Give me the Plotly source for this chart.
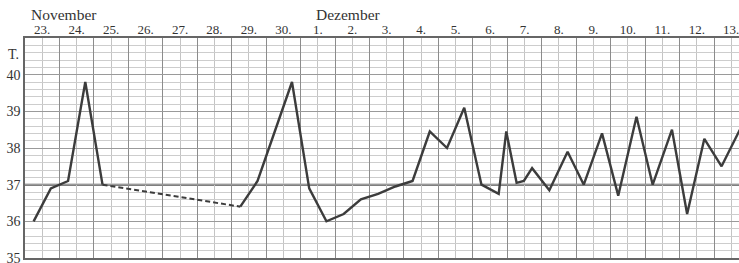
import plotly.graph_objects as go

# ---- data (x = days since start of 23 November; 0.25 ~ morning, 0.75 ~ evening) ----
day_labels = ["23.", "24.", "25.", "26.", "27.", "28.", "29.", "30.",
              "1.", "2.", "3.", "4.", "5.", "6.", "7.", "8.", "9.", "10.", "11.", "12.", "13."]
months = ["November", "Dezember"]
month_start_day = [0, 8]

# first solid stretch (23.-25. Nov.)
t_a = [0.25, 0.75, 1.25, 1.75, 2.25]
temp_a = [36.0, 36.9, 37.1, 39.8, 37.0]

# dashed gap (25. - 29. Nov., no readings)
t_gap = [2.25, 6.25]
temp_gap = [37.0, 36.4]

# second solid stretch (29. Nov. - 13. Dez.)
t_b = [6.25, 6.75, 7.25, 7.75,
       8.25, 8.75, 9.25, 9.75, 10.25, 10.75, 11.25, 11.75, 12.25, 12.75,
       13.25, 13.75, 13.97, 14.27, 14.48, 14.72,
       15.22, 15.75, 16.22, 16.75, 17.22, 17.75, 18.22, 18.78, 19.22, 19.72, 20.22, 20.75]
temp_b = [36.4, 37.1, 38.45, 39.8,
          36.9, 36.0, 36.2, 36.6, 36.75, 36.95, 37.1, 38.45, 38.0, 39.1,
          37.0, 36.75, 38.45, 37.05, 37.1, 37.45,
          36.85, 37.9, 37.0, 38.4, 36.7, 38.85, 37.0, 38.5, 36.2, 38.25, 37.5, 38.5]

y_ticks = [35, 36, 37, 38, 39, 40]

W, H = 739, 263
ML, MR, MT, MB = 25, 0, 38, 5
day_px = 34.45
x_max = (W - ML - MR) / day_px

SERIF = "Liberation Serif, Times New Roman, serif"
line_col = "#3c3c3c"

fig = go.Figure()
fig.add_trace(go.Scatter(x=t_a, y=temp_a, mode="lines",
                         line=dict(color=line_col, width=2.4), hoverinfo="skip"))
fig.add_trace(go.Scatter(x=t_gap, y=temp_gap, mode="lines",
                         line=dict(color=line_col, width=2, dash="5px,3px"), hoverinfo="skip"))
fig.add_trace(go.Scatter(x=t_b, y=temp_b, mode="lines",
                         line=dict(color=line_col, width=2.4), hoverinfo="skip"))
# invisible trace to carry the top label axis
fig.add_trace(go.Scatter(x=[0.5], y=[35.5], xaxis="x2", mode="markers",
                         marker=dict(opacity=0), hoverinfo="skip"))

# thick 37-degree line
fig.add_shape(type="line", xref="paper", yref="y", x0=0, x1=1, y0=37, y1=37,
              line=dict(color="#555555", width=2), layer="below")

day_centers = [i + 0.5 for i in range(len(day_labels))]

fig.update_layout(
    width=W, height=H,
    margin=dict(l=ML, r=MR, t=MT, b=MB, autoexpand=False),
    paper_bgcolor="white", plot_bgcolor="white",
    showlegend=False,
    font=dict(family=SERIF, color="#333333"),
    xaxis=dict(range=[0, x_max], tickmode="linear", tick0=0, dtick=1,
               showticklabels=False, ticks="", automargin=False,
               showgrid=True, gridcolor="#8c8c8c", gridwidth=1.2,
               minor=dict(tickmode="linear", tick0=0.5, dtick=1, showgrid=True,
                          gridcolor="#c4c4c4", gridwidth=1),
               showline=True, linecolor="#666666", linewidth=1.5, mirror=True,
               zeroline=False),
    xaxis2=dict(range=[0, x_max], overlaying="x", side="top", anchor="y",
                tickmode="array", tickvals=day_centers, ticktext=day_labels,
                ticks="", showgrid=False, zeroline=False, automargin=False,
                ticklabeloverflow="allow",
                tickfont=dict(family=SERIF, size=13, color="#333333")),
    yaxis=dict(range=[35, 41], tickmode="array", tickvals=y_ticks,
               ticktext=[str(v) for v in y_ticks], ticks="", automargin=False,
               ticklabeloverflow="allow",
               showgrid=True, gridcolor="#9a9a9a", gridwidth=1.2,
               minor=dict(tickmode="linear", tick0=35, dtick=0.2, showgrid=True,
                          gridcolor="#cdcdcd", gridwidth=1),
               showline=True, linecolor="#666666", linewidth=1.5,
               zeroline=False,
               tickfont=dict(family=SERIF, size=14, color="#333333")),
)

annotations = []
for name, d in zip(months, month_start_day):
    annotations.append(dict(text=name, x=d + (0.12 if d == 0 else 0.4), xref="x",
                            y=1.105, yref="paper", xanchor="left", yanchor="middle",
                            showarrow=False,
                            font=dict(family=SERIF, size=15.5, color="#333333")))
annotations.append(dict(text="T.", x=0, xref="paper", xshift=-4, y=40.55, yref="y",
                        xanchor="right", yanchor="middle", showarrow=False,
                        font=dict(family=SERIF, size=14, color="#333333")))
fig.update_layout(annotations=annotations)

fig.write_html("out.html", config={"displayModeBar": False},
               post_script="document.body.style.margin='0px';document.body.style.padding='0px';")
